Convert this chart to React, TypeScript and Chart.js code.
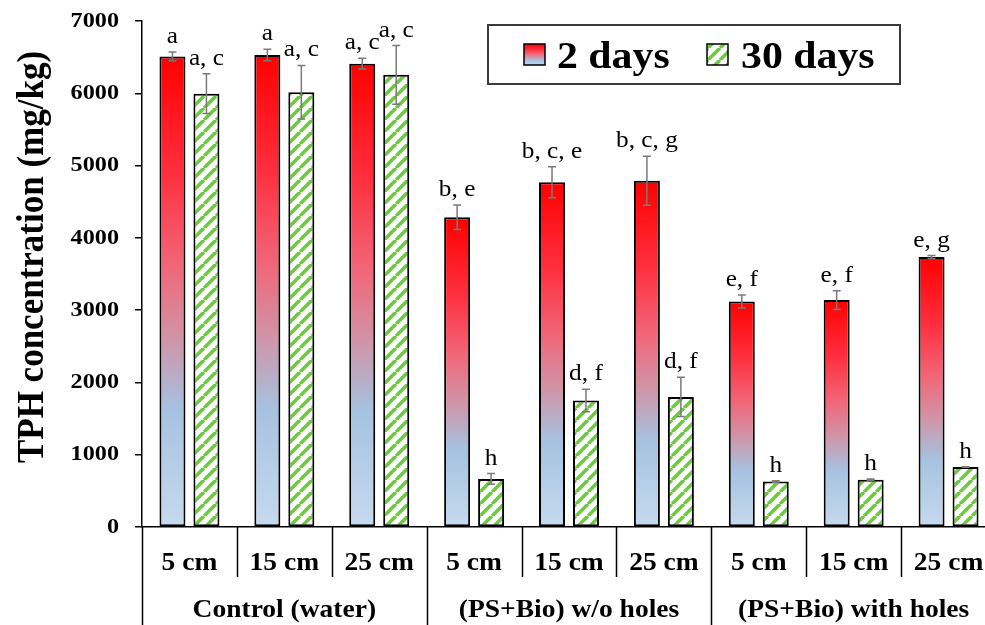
import React, { useEffect, useRef } from "react";
import { Chart, registerables } from "chart.js";

Chart.register(...registerables);

// Sampling depths within each treatment and the treatments themselves
const depths = ["5 cm", "15 cm", "25 cm", "5 cm", "15 cm", "25 cm", "5 cm", "15 cm", "25 cm"];
const treatments = ["Control (water)", "(PS+Bio) w/o holes", "(PS+Bio) with holes"];

// TPH concentration (mg/kg)
const day2 = [6510, 6530, 6410, 4285, 4770, 4790, 3120, 3140, 3735];
const day30 = [5995, 6015, 6255, 665, 1750, 1800, 630, 655, 830];
const day2Err = [60, 80, 75, 170, 215, 340, 90, 130, 20];
const day30Err = [275, 370, 405, 75, 155, 270, 10, 8, 5];

// Significance letters
const day2Letters = ["a", "a", "a, c", "b, e", "b, c, e", "b, c, g", "e, f", "e, f", "e, g"];
const day30Letters = ["a, c", "a, c", "a, c", "h", "d, f", "d, f", "h", "h", "h"];

const yTicks = [0, 1000, 2000, 3000, 4000, 5000, 6000, 7000];
const seriesNames = ["2 days", "30 days"];

const SERIF = '"Liberation Serif", "Times New Roman", serif';
const STRETCH = 1.1;

function addRedBlue(g: CanvasGradient) {
  g.addColorStop(0, "#FF0000");
  g.addColorStop(0.25, "#FF2F3F");
  g.addColorStop(0.45, "#F0687A");
  g.addColorStop(0.6, "#D094A8");
  g.addColorStop(0.75, "#A6C2E0");
  g.addColorStop(1, "#C6DAEE");
  return g;
}

function makeStripes(): CanvasPattern | string {
  const s = 12;
  const c = document.createElement("canvas");
  c.width = s;
  c.height = s;
  const x = c.getContext("2d");
  if (!x) return "#ffffff";
  x.fillStyle = "#ffffff";
  x.fillRect(0, 0, s, s);
  x.strokeStyle = "#6CCB3A";
  x.lineWidth = 3.6;
  for (const off of [-s, 0, s]) {
    x.beginPath();
    x.moveTo(off, s);
    x.lineTo(off + s, 0);
    x.stroke();
  }
  const p = x.createPattern(c, "repeat");
  return p || "#ffffff";
}

function text(
  ctx: CanvasRenderingContext2D,
  str: string,
  x: number,
  y: number,
  font: string,
  align: CanvasTextAlign,
  baseline: CanvasTextBaseline
) {
  ctx.save();
  ctx.font = font;
  ctx.fillStyle = "#000000";
  ctx.textAlign = align;
  ctx.textBaseline = baseline;
  ctx.translate(x, y);
  ctx.scale(STRETCH, 1);
  ctx.fillText(str, 0, 0);
  ctx.restore();
}

export default function App() {
  const ref = useRef<HTMLCanvasElement | null>(null);

  useEffect(() => {
    if (!ref.current) return;
    const stripes = makeStripes();

    const decorations = {
      id: "decorations",
      afterDatasetsDraw(chart: any) {
        const ctx: CanvasRenderingContext2D = chart.ctx;
        const y = chart.scales.y;
        const errs = [day2Err, day30Err];
        const vals = [day2, day30];
        const letters = [day2Letters, day30Letters];
        for (let d = 0; d < 2; d++) {
          const meta = chart.getDatasetMeta(d);
          meta.data.forEach((bar: any, i: number) => {
            const top = y.getPixelForValue(vals[d][i] + errs[d][i]);
            const bot = y.getPixelForValue(vals[d][i] - errs[d][i]);
            ctx.save();
            ctx.strokeStyle = "#7a7a7a";
            ctx.lineWidth = 1.5;
            ctx.beginPath();
            ctx.moveTo(bar.x, top);
            ctx.lineTo(bar.x, bot);
            ctx.moveTo(bar.x - 4, top);
            ctx.lineTo(bar.x + 4, top);
            ctx.moveTo(bar.x - 4, bot);
            ctx.lineTo(bar.x + 4, bot);
            ctx.stroke();
            ctx.restore();
            text(ctx, letters[d][i], bar.x, top - 9, `23px ${SERIF}`, "center", "alphabetic");
          });
        }
      },
      afterDraw(chart: any) {
        const ctx: CanvasRenderingContext2D = chart.ctx;
        const area = chart.chartArea;
        const x = chart.scales.x;
        const y = chart.scales.y;
        const n = depths.length;
        const cw = (area.right - area.left) / n;

        // y tick labels
        yTicks.forEach((v) => {
          text(ctx, String(v), 119, y.getPixelForValue(v), `bold 22px ${SERIF}`, "right", "middle");
        });

        // y title
        ctx.save();
        ctx.font = `bold 35px ${SERIF}`;
        ctx.fillStyle = "#000000";
        ctx.textAlign = "center";
        ctx.textBaseline = "alphabetic";
        ctx.translate(43, 257);
        ctx.rotate(-Math.PI / 2);
        ctx.scale(1, STRETCH);
        ctx.fillText("TPH concentration (mg/kg)", 0, 0);
        ctx.restore();

        // category dividers
        ctx.save();
        ctx.strokeStyle = "#000000";
        ctx.lineWidth = 1.5;
        for (let i = 0; i <= n; i++) {
          const px = Math.round(area.left + i * cw) + 0.5;
          ctx.beginPath();
          ctx.moveTo(px, area.bottom);
          ctx.lineTo(px, i % 3 === 0 ? chart.height : 577);
          ctx.stroke();
        }
        ctx.restore();

        // depth labels and treatment labels
        depths.forEach((lab, i) => {
          text(ctx, lab, x.getPixelForValue(i), 570, `bold 25px ${SERIF}`, "center", "alphabetic");
        });
        treatments.forEach((lab, g) => {
          const cx = area.left + (g * 3 + 1.5) * cw;
          text(ctx, lab, cx, 617, `bold 25px ${SERIF}`, "center", "alphabetic");
        });

        // legend
        ctx.save();
        ctx.fillStyle = "#ffffff";
        ctx.fillRect(488, 25, 412, 59);
        ctx.strokeStyle = "#3a3a3a";
        ctx.lineWidth = 2;
        ctx.strokeRect(488, 25, 412, 59);
        const sw = [
          { x: 524, fill: addRedBlue(ctx.createLinearGradient(0, 44, 0, 66)) as any, tx: 557 },
          { x: 707, fill: stripes as any, tx: 741 },
        ];
        sw.forEach((s, k) => {
          ctx.fillStyle = s.fill;
          ctx.fillRect(s.x, 44, 21, 21);
          ctx.strokeStyle = "#000000";
          ctx.lineWidth = 1.5;
          ctx.strokeRect(s.x, 44, 21, 21);
          text(ctx, seriesNames[k], s.tx, 68, `bold 38px ${SERIF}`, "left", "alphabetic");
        });
        ctx.restore();
      },
    };

    const chart = new Chart(ref.current, {
      type: "bar",
      data: {
        labels: depths,
        datasets: [
          {
            label: seriesNames[0],
            data: day2,
            backgroundColor: (c: any) => {
              const ys = c.chart.scales && c.chart.scales.y;
              if (c.type !== "data" || !ys) return "#FF0000";
              const top = ys.getPixelForValue(c.raw);
              const base = ys.getPixelForValue(0);
              if (!Number.isFinite(top) || !Number.isFinite(base) || top === base) return "#FF0000";
              return addRedBlue(c.chart.ctx.createLinearGradient(0, top, 0, base));
            },
            borderColor: "#000000",
            borderWidth: 2,
            borderSkipped: false,
          },
          {
            label: seriesNames[1],
            data: day30,
            backgroundColor: stripes as any,
            borderColor: "#000000",
            borderWidth: 2,
            borderSkipped: false,
          },
        ],
      },
      options: {
        responsive: false,
        animation: false,
        devicePixelRatio: 1,
        layout: { padding: { top: 21, right: 14, left: 0, bottom: 0 } },
        datasets: { bar: { categoryPercentage: 0.716, barPercentage: 0.765 } },
        plugins: { legend: { display: false }, tooltip: { enabled: false } },
        scales: {
          x: {
            ticks: { display: false },
            grid: { display: false },
            border: { display: true, color: "#000000", width: 1.5 },
            afterFit: (s: any) => {
              s.height = 98;
            },
          },
          y: {
            min: 0,
            max: 7000,
            ticks: { display: false, stepSize: 1000 },
            grid: { drawOnChartArea: false, drawTicks: true, tickLength: 7, color: "#000000", lineWidth: 1.5 },
            border: { display: true, color: "#000000", width: 1.5 },
            afterFit: (s: any) => {
              s.width = 142;
            },
          },
        },
      },
      plugins: [decorations],
    });
    return () => chart.destroy();
  }, []);

  return (
    <div
      style={{
        position: "absolute",
        left: 0,
        top: 0,
        width: 985,
        height: 625,
        overflow: "hidden",
        background: "#ffffff",
      }}
    >
      <canvas ref={ref} width={1010} height={625} style={{ display: "block" }} />
    </div>
  );
}
